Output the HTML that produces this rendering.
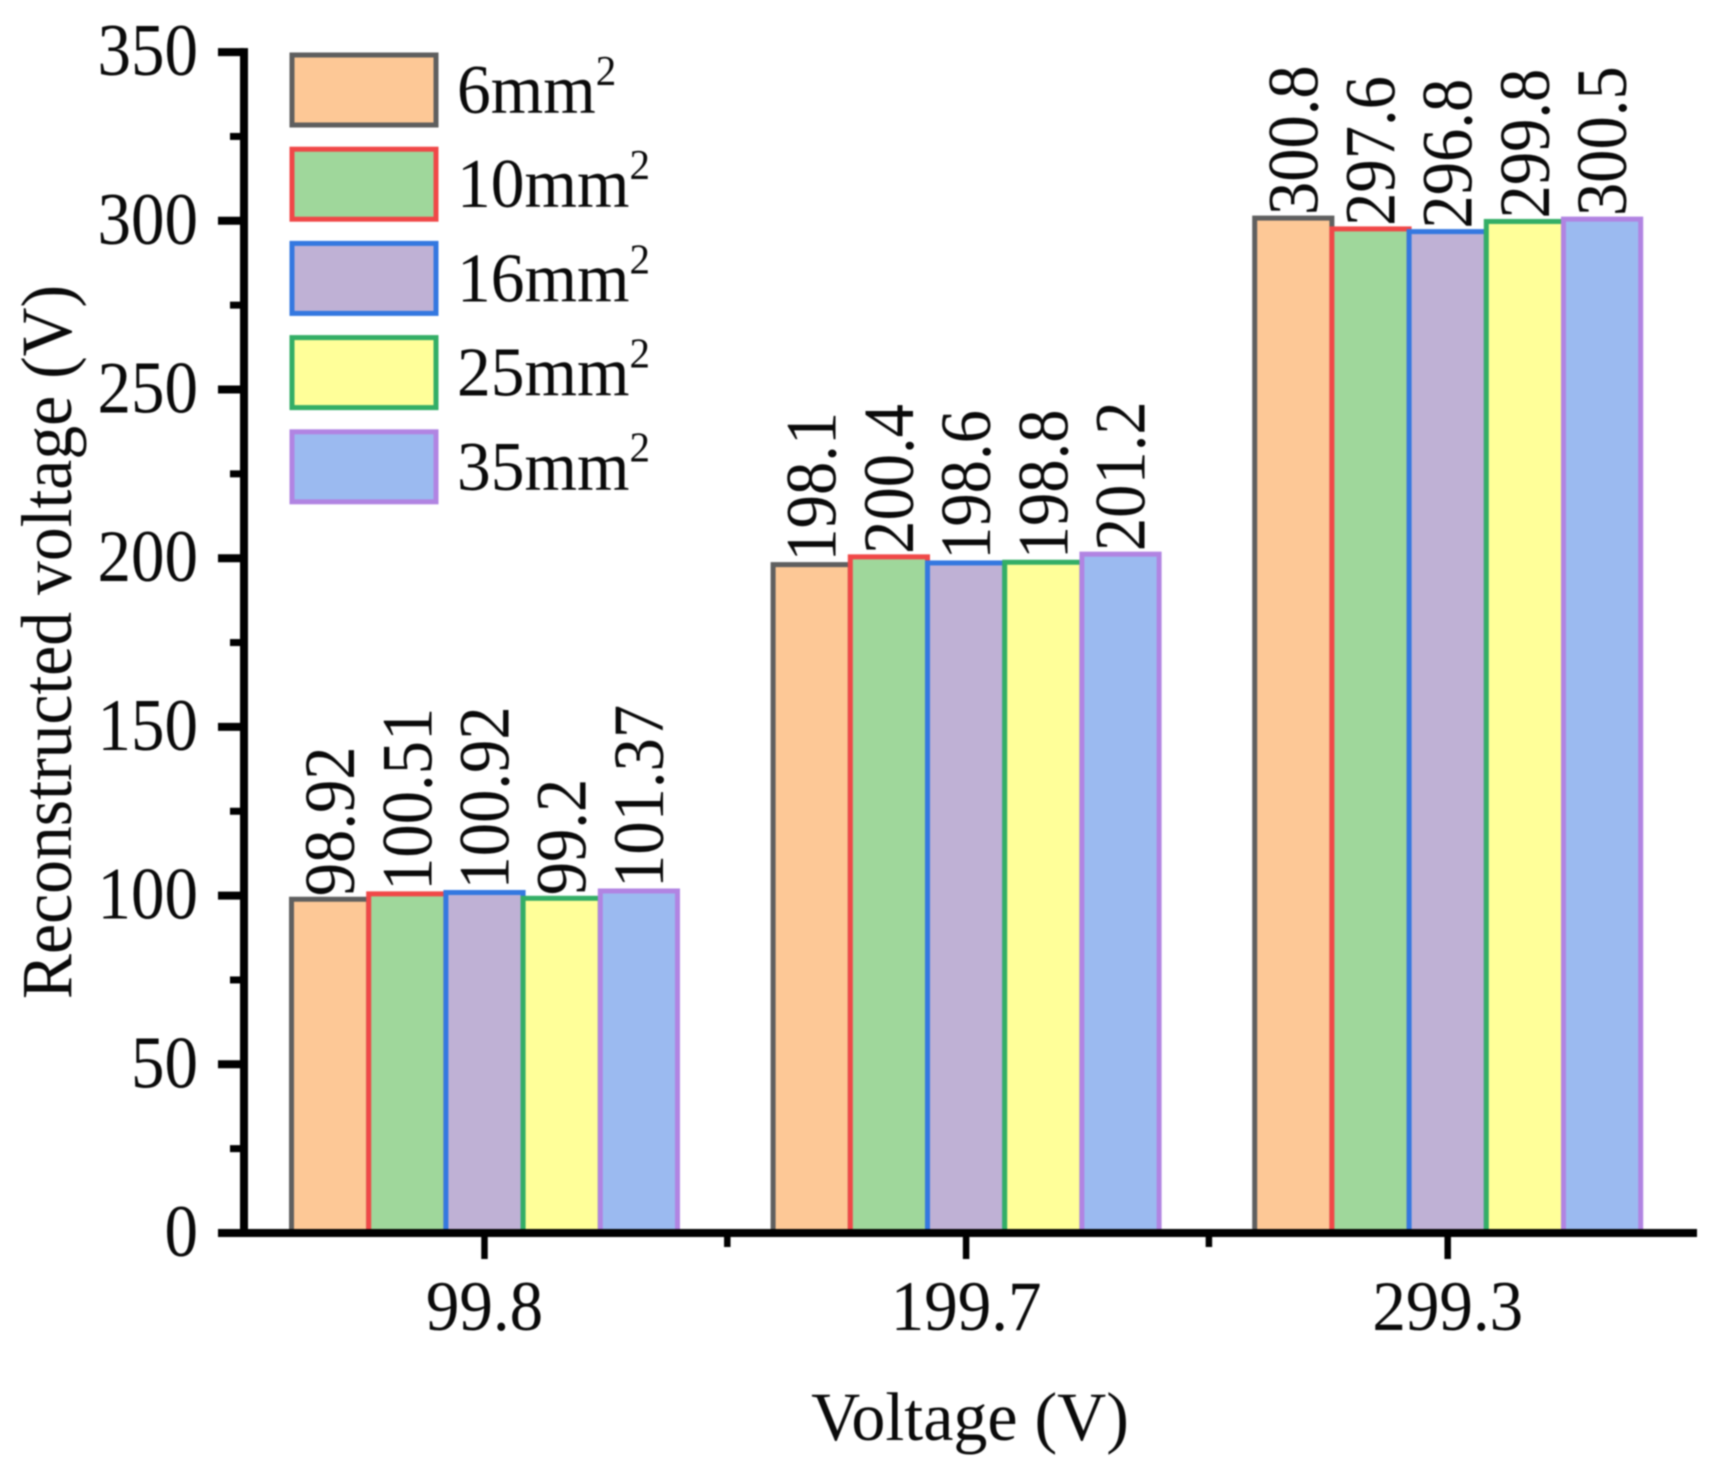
<!DOCTYPE html>
<html lang="en">
<head>
<meta charset="utf-8">
<title>Reconstructed voltage bar chart</title>
<style>
html,body{margin:0;padding:0;background:#fff;width:1720px;height:1480px;overflow:hidden}
svg{display:block;filter:blur(.8px)}
text{font-family:"Liberation Serif",serif;fill:#0a0a0a}
</style>
</head>
<body>
<svg id="chart" xmlns="http://www.w3.org/2000/svg" width="1720" height="1480" viewBox="0 0 1720 1480"></svg>
<script>
const categories = ['99.8', '199.7', '299.3'];
const seriesNames = ['6', '10', '16', '25', '35'];
const series6 = [98.92, 198.1, 300.8];
const series10 = [100.51, 200.4, 297.6];
const series16 = [100.92, 198.6, 296.8];
const series25 = [99.2, 198.8, 299.8];
const series35 = [101.37, 201.2, 300.5];
const yTicks = [0, 50, 100, 150, 200, 250, 300, 350];
const yMinorTicks = [25, 75, 125, 175, 225, 275, 325];
const allSeries = [series6, series10, series16, series25, series35];
const fills = ['#fdc896', '#9fd79b', '#bfb1d5', '#ffff99', '#9bbaf0'];
const strokes = ['#5f5f5f', '#f04848', '#3478e0', '#33ae66', '#b184e2'];

const svg = document.getElementById('chart');
const NS = 'http://www.w3.org/2000/svg';
const yZero = 1233, yPerUnit = 3.374;
const xFirst = 484.5, xStep = 481.6, barWidth = 77.2;
function y(v) { return yZero - v * yPerUnit; }
function x(i) { return xFirst + i * xStep; }

function line(x1, y1, x2, y2, w) {
  const el = document.createElementNS(NS, 'line');
  el.setAttribute('x1', x1);
  el.setAttribute('y1', y1);
  el.setAttribute('x2', x2);
  el.setAttribute('y2', y2);
  el.setAttribute('stroke', '#000');
  el.setAttribute('stroke-width', w);
  svg.appendChild(el);
  return el;
}
function rect(x0, y0, w, h, fill, stroke) {
  const el = document.createElementNS(NS, 'rect');
  el.setAttribute('x', x0);
  el.setAttribute('y', y0);
  el.setAttribute('width', w);
  el.setAttribute('height', h);
  el.setAttribute('fill', fill);
  el.setAttribute('stroke', stroke);
  el.setAttribute('stroke-width', 5);
  svg.appendChild(el);
  return el;
}
function text(str, tx, ty, size, anchor, rot, sx, sy) {
  const el = document.createElementNS(NS, 'text');
  el.textContent = str;
  el.setAttribute('font-size', size);
  el.setAttribute('text-anchor', anchor);
  el.setAttribute('transform', 'translate(' + tx + ' ' + ty + ') rotate(' + rot + ') scale(' + sx + ' ' + sy + ')');
  svg.appendChild(el);
  return el;
}

/* value labels (behind the bars) */
allSeries.forEach(function (values, s) {
  values.forEach(function (v, c) {
    const cx = x(c) + (s - 2) * barWidth;
    const t = text(String(v), cx + 24, y(v) - 3, 72, 'start', -90, 0.925, 1);
    
    
  });
});

/* bars */
allSeries.forEach(function (values, s) {
  values.forEach(function (v, c) {
    const cx = x(c) + (s - 2) * barWidth;
    const b = rect(cx - barWidth / 2, y(v), barWidth, y(0) - y(v), fills[s], strokes[s]);
    
    
  });
});

/* y axis */
const yAxisLine = line(244, y(350) - 4, 244, yZero + 4, 8);


yTicks.forEach(function (v) {
  const tick = line(218, y(v), 244, y(v), 8);
  
  
  const lab = text(String(v), 198, y(v) + 23, 67, 'end', 0, 1, 1.1);
  
  
});
yMinorTicks.forEach(function (v) {
  const tick = line(230, y(v), 244, y(v), 7);
  
  
});

/* x axis */
const xAxisLine = line(218, yZero, 1697, yZero, 8);


categories.forEach(function (cat, i) {
  const tick = line(x(i), yZero, x(i), 1259, 6.5);
  
  
  const lab = text(cat, x(i), 1330, 67, 'middle', 0, 1, 1.06);
  
  
  if (i < categories.length - 1) {
    const minor = line(x(i + 0.5) + 2, yZero, x(i + 0.5) + 2, 1247, 6.5);
    
    
  }
});

/* axis titles */
const xTitle = text('Voltage (V)', 970, 1440, 68, 'middle', 0, 1, 1.02);


const yTitle = text('Reconstructed voltage (V)', 71, 642, 67.7, 'middle', -90, 1, 1.07);



/* legend */
seriesNames.forEach(function (name, s) {
  const top = 55 + s * 94.2;
  const sw = rect(292, top, 144, 70, fills[s], strokes[s]);
  
  
  const lab = text(name + 'mm', 457, top + 58, 67.5, 'start', 0, 1, 1.04);
  
  
  const sup = document.createElementNS(NS, 'tspan');
  sup.textContent = '2';
  sup.setAttribute('font-size', 41);
  sup.setAttribute('dy', -27);
  
  
  lab.appendChild(sup);
});
</script>
</body>
</html>
